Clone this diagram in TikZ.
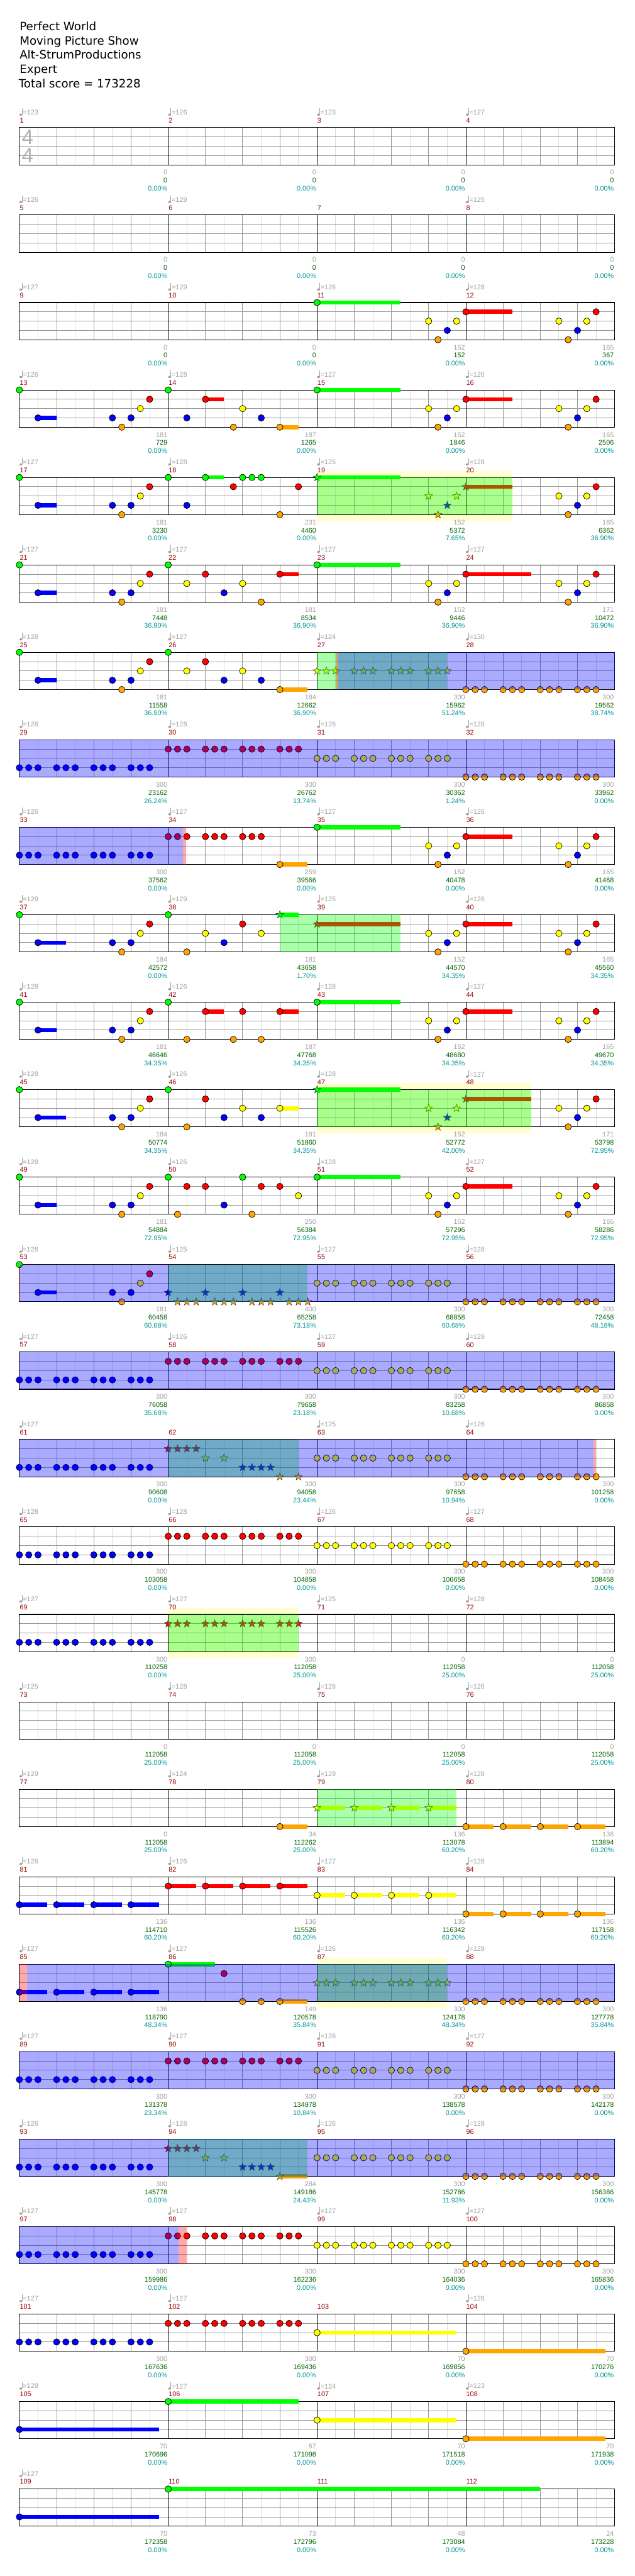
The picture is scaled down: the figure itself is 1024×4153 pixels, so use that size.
\documentclass[tikz,border=0pt]{standalone}
\usepackage{fontspec}
\setmainfont{Liberation Sans}
\newfontfamily\hdrfont{DejaVu Sans}
\definecolor{lane0}{RGB}{0,255,0}
\definecolor{lane1}{RGB}{255,0,0}
\definecolor{lane2}{RGB}{255,255,0}
\definecolor{lane3}{RGB}{0,0,255}
\definecolor{lane4}{RGB}{255,165,0}
\definecolor{lgrid}{RGB}{221,221,221}
\definecolor{mgrid}{RGB}{153,153,153}
\definecolor{tgray}{RGB}{160,160,160}
\definecolor{mred}{RGB}{150,0,0}
\definecolor{sgreen}{RGB}{0,100,0}
\definecolor{pteal}{RGB}{0,150,150}
\definecolor{ybg}{RGB}{255,255,208}
\tikzset{
 lbl/.style={inner sep=0pt,font=\fontsize{11}{11}\selectfont},
 mnum/.style={lbl,anchor=west,text=mred},
 tempo/.style={lbl,anchor=west,text=tgray},
 cnt/.style={lbl,anchor=east,text=tgray},
 scr/.style={lbl,anchor=east,text=sgreen},
 pct/.style={lbl,anchor=east,text=pteal},
 hdr/.style={inner sep=0pt,anchor=base west,font=\hdrfont\fontsize{18.5}{18.5}\selectfont},
 tsig/.style={inner sep=0pt,text=tgray!85,font=\fontsize{33}{33}\selectfont},
 lgr/.style={draw=lgrid,line width=.9pt},
 mgr/.style={draw=mgrid,line width=.9pt}
}
% grid of one row
\newcommand\Grid[1]{%
 \pgfmathsetmacro\GT{205.7+141*#1}%
 \foreach \j in {1,3,...,31}{\draw[lgr] ({31.3+30*\j},\GT) -- ++(0,60);}%
 \foreach \j in {2,4,6,10,12,14,18,20,22,26,28,30}{\draw[mgr] ({31.3+30*\j},\GT) -- ++(0,60);}%
 \foreach \i in {1,2,3}{\draw[mgr] (31.3,\GT+15*\i) -- (991.3,\GT+15*\i);}%
 \foreach \i in {1,2,3}{\draw[black,line width=.9pt] ({31.3+240*\i},\GT) -- ++(0,60);}%
 \draw[black,line width=1.1pt] (31.3,\GT) rectangle (991.3,\GT+60);}
% note: row, measure, sixteenth, lane, sustain length
\newcommand\Nt[5]{%
 \pgfmathsetmacro\NX{31.3+240*#2+15*#3}%
 \pgfmathsetmacro\NY{205.7+141*#1+15*#4}%
 \ifnum#5>0 \fill[lane#4] (\NX,\NY-3.4) rectangle ({\NX+15*#5},\NY+3.4);\fi
 \filldraw[fill=lane#4,draw=black,line width=.7pt] (\NX,\NY) circle (5.2);}
\newcommand\Sn[5]{%
 \pgfmathsetmacro\NX{31.3+240*#2+15*#3}%
 \pgfmathsetmacro\NY{205.7+141*#1+15*#4}%
 \ifnum#5>0 \fill[lane#4] (\NX,\NY-3.4) rectangle ({\NX+15*#5},\NY+3.4);\fi
 \filldraw[fill=lane#4,draw=black!80,line width=.5pt] (\NX,\NY) +(270:6.6) -- +(306:2.7) -- +(342:6.6) -- +(18:2.7) -- +(54:6.6) -- +(90:2.7) -- +(126:6.6) -- +(162:2.7) -- +(198:6.6) -- +(234:2.7) -- cycle;}
\newcommand\Tri[3]{\foreach \s in {0,1,2,4,5,6,8,9,10,12,13,14}{\Nt{#1}{#2}{\s}{#3}{0}}}
\newcommand\STri[3]{\foreach \s in {0,1,2,4,5,6,8,9,10,12,13,14}{\Sn{#1}{#2}{\s}{#3}{0}}}
\newcommand\Qd[3]{\foreach \s in {0,4,8,12}{\Nt{#1}{#2}{\s}{#3}{3}}}
\newcommand\SQd[3]{\foreach \s in {0,4,8,12}{\Sn{#1}{#2}{\s}{#3}{3}}}
\newcommand\PA[3]{\Nt{#1}{#2}{0}{0}{0}\Nt{#1}{#2}{2}{3}{#3}\Nt{#1}{#2}{10}{3}{0}\Nt{#1}{#2}{11}{4}{0}\Nt{#1}{#2}{12}{3}{0}\Nt{#1}{#2}{13}{2}{0}\Nt{#1}{#2}{14}{1}{0}}
\newcommand\PP[2]{\Nt{#1}{#2}{0}{0}{9}\Nt{#1}{#2}{12}{2}{0}\Nt{#1}{#2}{13}{4}{0}\Nt{#1}{#2}{14}{3}{0}\Nt{#1}{#2}{15}{2}{0}}
\newcommand\PT[2]{\Nt{#1}{#2}{10}{2}{0}\Nt{#1}{#2}{11}{4}{0}\Nt{#1}{#2}{12}{3}{0}\Nt{#1}{#2}{13}{2}{0}\Nt{#1}{#2}{14}{1}{0}}
\newcommand\PQ[3]{\Nt{#1}{#2}{0}{1}{#3}\PT{#1}{#2}}
% overlays
\newcommand\Ybg[3]{\fill[ybg] (#2,{205.7+141*#1-10.5}) rectangle (#3,{205.7+141*#1+70.5});}
\newcommand\Gov[3]{\fill[lane0,opacity=.333] (#2,{205.7+141*#1}) rectangle (#3,{205.7+141*#1+60});}
\newcommand\Bov[3]{\fill[lane3,opacity=.333] (#2,{205.7+141*#1}) rectangle (#3,{205.7+141*#1+60});}
\newcommand\Rst[3]{\fill[lane1,opacity=.333] (#2,{205.7+141*#1}) rectangle (#3,{205.7+141*#1+60});}
% labels of one measure: row, measure, tempo, count, score, percent
\newcommand\ML[6]{%
 \pgfmathsetmacro\LX{31.3+240*#2}%
 \pgfmathsetmacro\LT{205.7+141*#1}%
 \pgfmathtruncatemacro\LN{4*#1+#2+1}%
 \node[mnum] (mn\LN) at (\LX+0.5,\LT-11.7) {\LN};%
 \if\relax\detokenize{#3}\relax\else
  \fill[tgray] (\LX+2.3,\LT-20.9) ellipse (2.4 and 1.8);%
  \draw[tgray,line width=.8pt] (\LX+4.3,\LT-21.5) -- (\LX+4.3,\LT-31.5);%
  \node[tempo] (tp\LN) at (\LX+5.4,\LT-24.7) {=#3};%
 \fi
 \node[cnt] (cn\LN) at (\LX+238.8,\LT+72.3) {#4};%
 \node[scr] (sc\LN) at (\LX+238.8,\LT+85.3) {#5};%
 \node[pct] (pc\LN) at (\LX+238.8,\LT+98.3) {#6\%};}
\begin{document}
\begin{tikzpicture}[x=1pt,y=-1pt]
\useasboundingbox (0,0) rectangle (1024,4153);
\fill[white] (0,0) rectangle (1024,4153);
% pale phrase backgrounds
\Ybg{4}{511.3}{826.3}
\Ybg{11}{511.3}{856.3}
\Ybg{17}{271.3}{481.3}
\Ybg{21}{511.3}{721.3}
% grids
\foreach \k in {0,...,27}{\Grid{\k}}
% time signature
\node[tsig] (ts1) at (44.5,221) {4};
\node[tsig] (ts2) at (44.5,250.5) {4};
% ---- notes ----
% row 2
\PP{2}{2} \PQ{2}{3}{5}
% row 3
\PA{3}{0}{2}
\Nt{3}{1}{0}{0}{0}\Nt{3}{1}{2}{3}{0}\Nt{3}{1}{4}{1}{2}\Nt{3}{1}{7}{4}{0}\Nt{3}{1}{8}{2}{0}\Nt{3}{1}{10}{3}{0}\Nt{3}{1}{12}{4}{2}
\PP{3}{2} \PQ{3}{3}{5}
% row 4
\PA{4}{0}{2}
\Nt{4}{1}{0}{0}{0}\Nt{4}{1}{2}{3}{0}\Nt{4}{1}{4}{0}{2}\Nt{4}{1}{7}{1}{0}\Nt{4}{1}{8}{0}{0}\Nt{4}{1}{9}{0}{0}\Nt{4}{1}{10}{0}{0}\Nt{4}{1}{12}{4}{0}\Nt{4}{1}{14}{1}{0}
\Sn{4}{2}{0}{0}{9}\Sn{4}{2}{12}{2}{0}\Sn{4}{2}{13}{4}{0}\Sn{4}{2}{14}{3}{0}\Sn{4}{2}{15}{2}{0}
\Sn{4}{3}{0}{1}{5}\PT{4}{3}
% row 5
\PA{5}{0}{2}
\Nt{5}{1}{0}{0}{0}\Nt{5}{1}{2}{2}{0}\Nt{5}{1}{4}{1}{0}\Nt{5}{1}{6}{3}{0}\Nt{5}{1}{8}{2}{0}\Nt{5}{1}{10}{4}{0}\Nt{5}{1}{12}{1}{2}
\PP{5}{2} \PQ{5}{3}{7}
% row 6
\PA{6}{0}{2}
\Nt{6}{1}{0}{0}{0}\Nt{6}{1}{2}{2}{0}\Nt{6}{1}{4}{1}{0}\Nt{6}{1}{6}{3}{0}\Nt{6}{1}{8}{2}{0}\Nt{6}{1}{10}{3}{0}\Nt{6}{1}{12}{4}{3}
\STri{6}{2}{2} \Tri{6}{3}{4}
% row 7
\Tri{7}{0}{3}\Tri{7}{1}{1}\Tri{7}{2}{2}\Tri{7}{3}{4}
% row 8
\Tri{8}{0}{3}
\foreach \s in {0,1,2,4,5,6,8,9,10}{\Nt{8}{1}{\s}{1}{0}}\Nt{8}{1}{12}{4}{3}
\PP{8}{2} \PQ{8}{3}{5}
% row 9
\PA{9}{0}{3}
\Nt{9}{1}{0}{0}{0}\Nt{9}{1}{2}{4}{0}\Nt{9}{1}{4}{2}{0}\Nt{9}{1}{6}{3}{0}\Nt{9}{1}{8}{1}{0}\Nt{9}{1}{10}{2}{0}\Sn{9}{1}{12}{0}{2}
\Sn{9}{2}{0}{1}{9}\Nt{9}{2}{12}{2}{0}\Nt{9}{2}{13}{4}{0}\Nt{9}{2}{14}{3}{0}\Nt{9}{2}{15}{2}{0}
\PQ{9}{3}{5}
% row 10
\PA{10}{0}{2}
\Nt{10}{1}{0}{0}{0}\Nt{10}{1}{2}{4}{0}\Nt{10}{1}{4}{1}{2}\Nt{10}{1}{7}{4}{0}\Nt{10}{1}{8}{1}{0}\Nt{10}{1}{10}{4}{0}\Nt{10}{1}{12}{1}{2}
\PP{10}{2} \PQ{10}{3}{5}
% row 11
\PA{11}{0}{3}
\Nt{11}{1}{0}{0}{0}\Nt{11}{1}{2}{4}{0}\Nt{11}{1}{4}{1}{0}\Nt{11}{1}{6}{3}{0}\Nt{11}{1}{8}{2}{0}\Nt{11}{1}{10}{3}{0}\Nt{11}{1}{12}{2}{2}
\Sn{11}{2}{0}{0}{9}\Sn{11}{2}{12}{2}{0}\Sn{11}{2}{13}{4}{0}\Sn{11}{2}{14}{3}{0}\Sn{11}{2}{15}{2}{0}
\Sn{11}{3}{0}{1}{7}\PT{11}{3}
% row 12
\PA{12}{0}{2}
\Nt{12}{1}{0}{0}{0}\Nt{12}{1}{1}{4}{0}\Nt{12}{1}{2}{1}{0}\Nt{12}{1}{4}{1}{0}\Nt{12}{1}{6}{3}{0}\Nt{12}{1}{8}{0}{0}\Nt{12}{1}{9}{4}{0}\Nt{12}{1}{10}{1}{0}\Nt{12}{1}{12}{1}{0}\Nt{12}{1}{14}{2}{0}
\PP{12}{2} \PQ{12}{3}{5}
% row 13
\PA{13}{0}{2}
\foreach \s in {0,4,8,12}{\Sn{13}{1}{\s}{3}{0}}
\foreach \s in {1,2,3,5,6,7,9,10,11,13,14,15}{\Sn{13}{1}{\s}{4}{0}}
\Tri{13}{2}{2}\Tri{13}{3}{4}
% row 14
\Tri{14}{0}{3}\Tri{14}{1}{1}\Tri{14}{2}{2}\Tri{14}{3}{4}
% row 15
\Tri{15}{0}{3}
\foreach \s in {0,1,2,3}{\Sn{15}{1}{\s}{1}{0}}\Sn{15}{1}{4}{2}{0}\Sn{15}{1}{6}{2}{0}
\foreach \s in {8,9,10,11}{\Sn{15}{1}{\s}{3}{0}}\Sn{15}{1}{12}{4}{0}\Sn{15}{1}{14}{4}{0}
\Tri{15}{2}{2}\Tri{15}{3}{4}
% row 16
\Tri{16}{0}{3}\Tri{16}{1}{1}\Tri{16}{2}{2}\Tri{16}{3}{4}
% row 17
\Tri{17}{0}{3}\STri{17}{1}{1}
% row 19
\Nt{19}{1}{12}{4}{3}\SQd{19}{2}{2}\Qd{19}{3}{4}
% row 20
\Qd{20}{0}{3}\Qd{20}{1}{1}\Qd{20}{2}{2}\Qd{20}{3}{4}
% row 21
\Qd{21}{0}{3}
\Nt{21}{1}{0}{0}{5}\Nt{21}{1}{6}{1}{0}\Nt{21}{1}{8}{4}{0}\Nt{21}{1}{10}{4}{0}\Nt{21}{1}{12}{4}{3}
\STri{21}{2}{2}\Tri{21}{3}{4}
% row 22
\Tri{22}{0}{3}\Tri{22}{1}{1}\Tri{22}{2}{2}\Tri{22}{3}{4}
% row 23
\Tri{23}{0}{3}
\foreach \s in {0,1,2,3}{\Sn{23}{1}{\s}{1}{0}}\Sn{23}{1}{4}{2}{0}\Sn{23}{1}{6}{2}{0}
\foreach \s in {8,9,10,11}{\Sn{23}{1}{\s}{3}{0}}\Sn{23}{1}{12}{4}{3}
\Tri{23}{2}{2}\Tri{23}{3}{4}
% row 24
\Tri{24}{0}{3}\Tri{24}{1}{1}\Tri{24}{2}{2}\Tri{24}{3}{4}
% row 25
\Tri{25}{0}{3}\Tri{25}{1}{1}\Nt{25}{2}{0}{2}{15}\Nt{25}{3}{0}{4}{15}
% row 26
\Nt{26}{0}{0}{3}{15}\Nt{26}{1}{0}{0}{14}\Nt{26}{2}{0}{2}{15}\Nt{26}{3}{0}{4}{15}
% row 27
\Nt{27}{0}{0}{3}{15}\Nt{27}{1}{0}{0}{40}
% ---- star power phrases (green) ----
\Gov{4}{511.3}{826.3}
\Gov{6}{511.3}{721.3}
\Gov{9}{451.3}{646.3}
\Gov{11}{511.3}{856.3}
\Gov{13}{271.3}{496.3}
\Gov{15}{271.3}{481.3}
\Gov{17}{271.3}{481.3}
\Gov{19}{511.3}{736.3}
\Gov{21}{511.3}{721.3}
\Gov{23}{271.3}{496.3}
% ---- activation marks (red) ----
\Rst{6}{541.3}{545.2}
\Rst{8}{295.1}{300.4}
\Rst{13}{31.3}{32.8}
\Rst{15}{956.8}{961.3}
\Rst{21}{31.3}{43.3}
\Rst{24}{287.8}{301.3}
% ---- active star power (blue) ----
\Bov{6}{545.2}{991.3}
\Bov{7}{31.3}{991.3}
\Bov{8}{31.3}{295.1}
\Bov{13}{32.8}{991.3}
\Bov{14}{31.3}{991.3}
\Bov{15}{31.3}{956.8}
\Bov{21}{43.3}{991.3}
\Bov{22}{31.3}{991.3}
\Bov{23}{31.3}{991.3}
\Bov{24}{31.3}{287.8}
% ---- header ----
\node[hdr] (h1) at (31.5,49) {Perfect World};
\node[hdr] (h2) at (31.5,72) {Moving Picture Show};
\node[hdr] (h3) at (31.5,95.3) {Alt-StrumProductions};
\node[hdr] (h4) at (31.5,118) {Expert};
\node[hdr] (h5) at (30,141.3) {Total score = 173228};
% ---- measure labels ----
\ML{0}{0}{123}{0}{0}{0.00}\ML{0}{1}{126}{0}{0}{0.00}\ML{0}{2}{123}{0}{0}{0.00}\ML{0}{3}{127}{0}{0}{0.00}
\ML{1}{0}{126}{0}{0}{0.00}\ML{1}{1}{129}{0}{0}{0.00}\ML{1}{2}{}{0}{0}{0.00}\ML{1}{3}{125}{0}{0}{0.00}
\ML{2}{0}{127}{0}{0}{0.00}\ML{2}{1}{129}{0}{0}{0.00}\ML{2}{2}{126}{152}{152}{0.00}\ML{2}{3}{128}{165}{367}{0.00}
\ML{3}{0}{126}{181}{729}{0.00}\ML{3}{1}{128}{187}{1265}{0.00}\ML{3}{2}{127}{152}{1846}{0.00}\ML{3}{3}{126}{165}{2506}{0.00}
\ML{4}{0}{127}{181}{3230}{0.00}\ML{4}{1}{128}{231}{4460}{0.00}\ML{4}{2}{125}{152}{5372}{7.65}\ML{4}{3}{128}{165}{6362}{36.90}
\ML{5}{0}{127}{181}{7448}{36.90}\ML{5}{1}{127}{181}{8534}{36.90}\ML{5}{2}{127}{152}{9446}{36.90}\ML{5}{3}{127}{171}{10472}{36.90}
\ML{6}{0}{128}{181}{11558}{36.90}\ML{6}{1}{127}{184}{12662}{36.90}\ML{6}{2}{124}{300}{15962}{51.24}\ML{6}{3}{130}{300}{19562}{38.74}
\ML{7}{0}{126}{300}{23162}{26.24}\ML{7}{1}{128}{300}{26762}{13.74}\ML{7}{2}{126}{300}{30362}{1.24}\ML{7}{3}{128}{300}{33962}{0.00}
\ML{8}{0}{126}{300}{37562}{0.00}\ML{8}{1}{127}{259}{39566}{0.00}\ML{8}{2}{127}{152}{40478}{0.00}\ML{8}{3}{126}{165}{41468}{0.00}
\ML{9}{0}{129}{184}{42572}{0.00}\ML{9}{1}{129}{181}{43658}{1.70}\ML{9}{2}{125}{152}{44570}{34.35}\ML{9}{3}{126}{165}{45560}{34.35}
\ML{10}{0}{128}{181}{46646}{34.35}\ML{10}{1}{126}{187}{47768}{34.35}\ML{10}{2}{128}{152}{48680}{34.35}\ML{10}{3}{127}{165}{49670}{34.35}
\ML{11}{0}{128}{184}{50774}{34.35}\ML{11}{1}{126}{181}{51860}{34.35}\ML{11}{2}{128}{152}{52772}{42.00}\ML{11}{3}{127}{171}{53798}{72.95}
\ML{12}{0}{128}{181}{54884}{72.95}\ML{12}{1}{126}{250}{56384}{72.95}\ML{12}{2}{128}{152}{57296}{72.95}\ML{12}{3}{127}{165}{58286}{72.95}
\ML{13}{0}{128}{181}{60458}{60.68}\ML{13}{1}{125}{400}{65258}{73.18}\ML{13}{2}{127}{300}{68858}{60.68}\ML{13}{3}{128}{300}{72458}{48.18}
\ML{14}{0}{127}{300}{76058}{35.68}\ML{14}{1}{126}{300}{79658}{23.18}\ML{14}{2}{127}{300}{83258}{10.68}\ML{14}{3}{129}{300}{86858}{0.00}
\ML{15}{0}{127}{300}{90608}{0.00}\ML{15}{1}{}{300}{94058}{23.44}\ML{15}{2}{125}{300}{97658}{10.94}\ML{15}{3}{126}{300}{101258}{0.00}
\ML{16}{0}{128}{300}{103058}{0.00}\ML{16}{1}{128}{300}{104858}{0.00}\ML{16}{2}{126}{300}{106658}{0.00}\ML{16}{3}{127}{300}{108458}{0.00}
\ML{17}{0}{127}{300}{110258}{0.00}\ML{17}{1}{127}{300}{112058}{25.00}\ML{17}{2}{125}{0}{112058}{25.00}\ML{17}{3}{128}{0}{112058}{25.00}
\ML{18}{0}{125}{0}{112058}{25.00}\ML{18}{1}{128}{0}{112058}{25.00}\ML{18}{2}{128}{0}{112058}{25.00}\ML{18}{3}{126}{0}{112058}{25.00}
\ML{19}{0}{129}{0}{112058}{25.00}\ML{19}{1}{124}{34}{112262}{25.00}\ML{19}{2}{129}{136}{113078}{60.20}\ML{19}{3}{128}{136}{113894}{60.20}
\ML{20}{0}{126}{136}{114710}{60.20}\ML{20}{1}{126}{136}{115526}{60.20}\ML{20}{2}{127}{136}{116342}{60.20}\ML{20}{3}{128}{136}{117158}{60.20}
\ML{21}{0}{127}{136}{118790}{48.34}\ML{21}{1}{127}{149}{120578}{35.84}\ML{21}{2}{126}{300}{124178}{48.34}\ML{21}{3}{129}{300}{127778}{35.84}
\ML{22}{0}{127}{300}{131378}{23.34}\ML{22}{1}{127}{300}{134978}{10.84}\ML{22}{2}{126}{300}{138578}{0.00}\ML{22}{3}{127}{300}{142178}{0.00}
\ML{23}{0}{126}{300}{145778}{0.00}\ML{23}{1}{128}{284}{149186}{24.43}\ML{23}{2}{126}{300}{152786}{11.93}\ML{23}{3}{128}{300}{156386}{0.00}
\ML{24}{0}{127}{300}{159986}{0.00}\ML{24}{1}{127}{300}{162236}{0.00}\ML{24}{2}{127}{300}{164036}{0.00}\ML{24}{3}{127}{300}{165836}{0.00}
\ML{25}{0}{127}{300}{167636}{0.00}\ML{25}{1}{127}{300}{169436}{0.00}\ML{25}{2}{}{70}{169856}{0.00}\ML{25}{3}{126}{70}{170276}{0.00}
\ML{26}{0}{128}{70}{170696}{0.00}\ML{26}{1}{127}{67}{171098}{0.00}\ML{26}{2}{124}{70}{171518}{0.00}\ML{26}{3}{123}{70}{171938}{0.00}
\ML{27}{0}{127}{70}{172358}{0.00}\ML{27}{1}{}{73}{172796}{0.00}\ML{27}{2}{}{48}{173084}{0.00}\ML{27}{3}{}{24}{173228}{0.00}
\end{tikzpicture}
\end{document}
